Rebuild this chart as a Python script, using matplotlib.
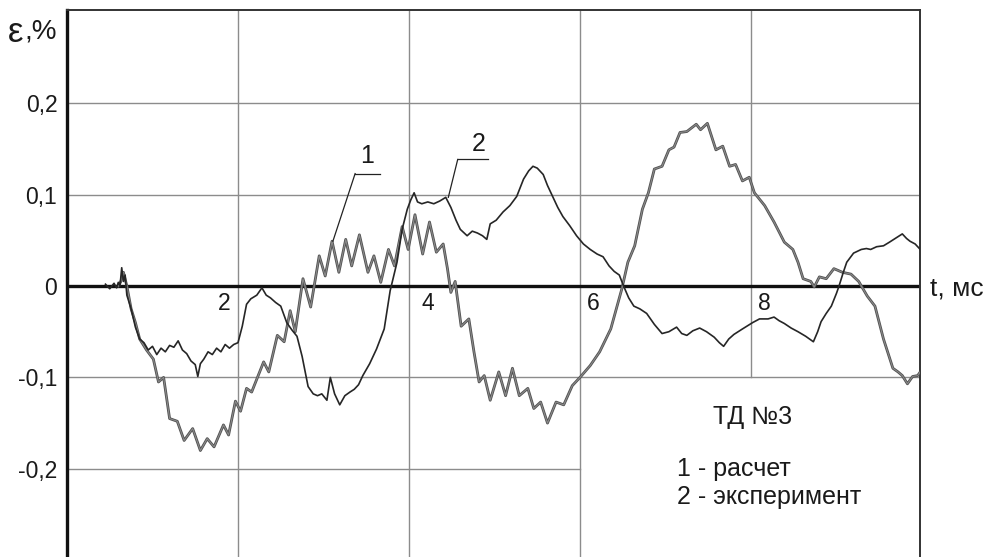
import matplotlib
matplotlib.use("Agg")
import matplotlib.pyplot as plt
import matplotlib.patheffects as pe

plt.rcParams['font.family'] = ['Liberation Sans', 'DejaVu Sans']

# ---- data ----
# curve 1: calculation (расчет)
calc_t = [0.60, 0.63, 0.66, 0.70, 0.75, 0.80, 0.85, 0.93, 1.01, 1.07,
          1.13, 1.20, 1.29, 1.37, 1.47, 1.56, 1.64, 1.72, 1.83, 1.89,
          1.97, 2.03, 2.10, 2.16, 2.30, 2.36, 2.46, 2.54, 2.61, 2.67,
          2.76, 2.85, 2.95, 3.02, 3.10, 3.18, 3.26, 3.33, 3.42, 3.52,
          3.59, 3.67, 3.76, 3.83, 3.92, 3.99, 4.07, 4.16, 4.24, 4.32,
          4.40, 4.45, 4.49, 4.54, 4.61, 4.70, 4.76, 4.82, 4.88, 4.95,
          5.05, 5.13, 5.21, 5.29, 5.39, 5.46, 5.54, 5.62, 5.72, 5.81,
          5.91, 6.00, 6.12, 6.23, 6.36, 6.49, 6.56, 6.64, 6.73, 6.80,
          6.87, 6.96, 7.04, 7.10, 7.17, 7.25, 7.36, 7.41, 7.49, 7.59,
          7.67, 7.75, 7.82, 7.90, 7.98, 8.04, 8.16, 8.27, 8.39, 8.49,
          8.55, 8.61, 8.70, 8.74, 8.80, 8.88, 8.97, 9.07, 9.17, 9.26,
          9.36, 9.45, 9.55, 9.66, 9.72, 9.77, 9.83, 9.89, 9.95, 9.98]
calc_v = [0.000, 0.005, 0.015, 0.000, -0.025, -0.040, -0.058, -0.070, -0.080, -0.105,
          -0.100, -0.145, -0.148, -0.169, -0.156, -0.180, -0.167, -0.176, -0.152, -0.163,
          -0.126, -0.137, -0.112, -0.116, -0.083, -0.094, -0.054, -0.061, -0.027, -0.050,
          0.008, -0.023, 0.033, 0.011, 0.049, 0.015, 0.051, 0.022, 0.056, 0.015,
          0.033, 0.004, 0.040, 0.022, 0.065, 0.040, 0.078, 0.035, 0.070, 0.037,
          0.046, 0.019, -0.007, 0.005, -0.044, -0.036, -0.072, -0.105, -0.098, -0.125,
          -0.094, -0.120, -0.090, -0.120, -0.112, -0.134, -0.127, -0.150, -0.127, -0.130,
          -0.109, -0.100, -0.087, -0.072, -0.047, -0.003, 0.026, 0.044, 0.084, 0.102,
          0.128, 0.131, 0.149, 0.152, 0.168, 0.169, 0.177, 0.171, 0.178, 0.149,
          0.153, 0.131, 0.133, 0.115, 0.119, 0.102, 0.088, 0.070, 0.048, 0.040,
          0.026, 0.008, 0.005, -0.001, 0.010, 0.008, 0.019, 0.015, 0.013, 0.005,
          -0.011, -0.022, -0.058, -0.090, -0.094, -0.098, -0.107, -0.099, -0.098, -0.094]

# curve 2: experiment (эксперимент)
exp_t = [0.45, 0.50, 0.55, 0.58, 0.60, 0.62, 0.64, 0.66, 0.68, 0.70,
         0.75, 0.80, 0.85, 0.90, 0.95, 1.00, 1.05, 1.10, 1.15, 1.20,
         1.25, 1.30, 1.35, 1.40, 1.45, 1.50, 1.53, 1.56, 1.60, 1.65,
         1.70, 1.75, 1.80, 1.85, 1.90, 1.95, 2.00, 2.05, 2.10, 2.15,
         2.22, 2.28, 2.33, 2.38, 2.44, 2.50, 2.57, 2.63, 2.69, 2.75,
         2.82, 2.88, 2.93, 2.98, 3.04, 3.08, 3.13, 3.19, 3.25, 3.31,
         3.36, 3.41, 3.46, 3.54, 3.62, 3.71, 3.78, 3.86, 3.92, 3.98,
         4.02, 4.06, 4.10, 4.15, 4.22, 4.29, 4.36, 4.43, 4.49, 4.55,
         4.60, 4.68, 4.74, 4.80, 4.86, 4.91, 4.95, 5.02, 5.10, 5.18,
         5.26, 5.34, 5.40, 5.45, 5.50, 5.57, 5.62, 5.68, 5.74, 5.80,
         5.88, 5.96, 6.04, 6.12, 6.20, 6.27, 6.34, 6.40, 6.46, 6.51,
         6.57, 6.63, 6.70, 6.78, 6.87, 6.96, 7.04, 7.13, 7.19, 7.25,
         7.32, 7.40, 7.48, 7.57, 7.63, 7.68, 7.74, 7.80, 7.90, 8.02,
         8.10, 8.20, 8.27, 8.33, 8.39, 8.47, 8.55, 8.64, 8.73, 8.78,
         8.82, 8.88, 8.94, 9.00, 9.03, 9.08, 9.12, 9.20, 9.29, 9.35,
         9.40, 9.47, 9.55, 9.62, 9.67, 9.72, 9.77, 9.82, 9.86, 9.92,
         9.98]
exp_v = [0.002, -0.003, 0.003, -0.002, 0.004, 0.000, 0.020, 0.005, 0.012, -0.010,
         -0.025, -0.045, -0.058, -0.062, -0.070, -0.066, -0.075, -0.068, -0.072, -0.065,
         -0.067, -0.060, -0.070, -0.074, -0.082, -0.086, -0.099, -0.085, -0.080, -0.072,
         -0.075, -0.068, -0.072, -0.064, -0.068, -0.064, -0.062, -0.044, -0.020, -0.014,
         -0.010, -0.002, -0.010, -0.013, -0.018, -0.022, -0.040, -0.048, -0.055, -0.077,
         -0.110, -0.118, -0.120, -0.118, -0.125, -0.100, -0.118, -0.130, -0.120, -0.116,
         -0.113, -0.108, -0.098, -0.085, -0.069, -0.047, -0.005, 0.026, 0.062, 0.084,
         0.094, 0.102, 0.092, 0.090, 0.092, 0.090, 0.093, 0.097, 0.086, 0.072,
         0.062, 0.055, 0.060, 0.058, 0.055, 0.051, 0.068, 0.072, 0.081, 0.088,
         0.098, 0.117, 0.126, 0.131, 0.129, 0.122, 0.110, 0.098, 0.086, 0.076,
         0.066, 0.055, 0.046, 0.040, 0.035, 0.032, 0.022, 0.016, 0.012, 0.000,
         -0.013, -0.022, -0.025, -0.030, -0.042, -0.052, -0.050, -0.045, -0.052, -0.054,
         -0.049, -0.046, -0.050, -0.056, -0.062, -0.066, -0.058, -0.053, -0.047, -0.040,
         -0.036, -0.036, -0.034, -0.038, -0.041, -0.046, -0.050, -0.055, -0.061, -0.050,
         -0.039, -0.030, -0.022, -0.008, 0.000, 0.015, 0.026, 0.036, 0.040, 0.041,
         0.040, 0.043, 0.044, 0.048, 0.051, 0.054, 0.057, 0.052, 0.049, 0.046,
         0.040]

y_ticks = [0.2, 0.1, 0.0, -0.1, -0.2]
y_tick_labels = ["0,2", "0,1", "0", "-0,1", "-0,2"]
x_ticks = [2, 4, 6, 8]
x_tick_labels = ["2", "4", "6", "8"]

# ---- figure ----
W, H = 991, 557
fig = plt.figure(figsize=(W / 100, H / 100), dpi=100)
ax = fig.add_axes([67 / W, 0.0, (920 - 67) / W, (557 - 10) / H])
ax.set_xlim(0, 9.977)
ax.set_ylim(-0.2965, 0.302)

grid_c = '#8c8c8c'
grid_lw = 1.0
# horizontal grid lines
for yv in [0.2, 0.1, -0.1]:
    ax.plot([0, 9.977], [yv, yv], color=grid_c, lw=grid_lw, zorder=1)
ax.plot([0, 6], [-0.2, -0.2], color=grid_c, lw=grid_lw, zorder=1)
# vertical grid lines
for xv in [2, 4, 6]:
    ax.plot([xv, xv], [-0.2965, 0.302], color=grid_c, lw=grid_lw, zorder=1)
ax.plot([8, 8], [-0.1, 0.302], color=grid_c, lw=grid_lw, zorder=1)

# zero line
ax.axhline(0, color='#111111', lw=2.4, zorder=2)

# curves
ax.plot(calc_t, calc_v, color='#8a8a8a', lw=0.8, zorder=3,
        path_effects=[pe.Stroke(linewidth=2.0, foreground='#505050'), pe.Normal()])
ax.plot(exp_t, exp_v, color='#262626', lw=1.2, zorder=4)

# spines
ax.spines['bottom'].set_visible(False)
ax.spines['left'].set_linewidth(2.4)
ax.spines['left'].set_color('#111111')
ax.spines['right'].set_linewidth(1.4)
ax.spines['right'].set_color('#333333')
ax.spines['top'].set_linewidth(1.4)
ax.spines['top'].set_color('#333333')

ax.set_yticks(y_ticks)
ax.set_yticklabels(y_tick_labels, fontsize=16.5, color='#1a1a1a')
ax.tick_params(axis='y', length=0, pad=7)
ax.set_xticks([])

# x labels placed inside, just below zero line
x_label_pos = [1.84, 4.22, 6.16, 8.16]
for xp, lab in zip(x_label_pos, x_tick_labels):
    ax.text(xp, -0.0195, lab, fontsize=16.5, ha='center', va='center', color='#1a1a1a')

# axis titles
fig.text(8 / W, 1 - 32 / H, "ε", fontsize=25, ha='left', va='center', color='#1a1a1a')
fig.text(24 / W, 1 - 31 / H, ",%", fontsize=20, ha='left', va='center', color='#1a1a1a')
fig.text(930 / W, 1 - 289 / H, "t, мс", fontsize=19, ha='left', va='center', color='#1a1a1a')

# leaders for curve labels
ax.plot([3.37, 3.66], [0.123, 0.123], color='#222222', lw=0.9, zorder=5)
ax.plot([3.37, 3.11], [0.123, 0.049], color='#222222', lw=0.9, zorder=5)
ax.text(3.51, 0.142, "1", fontsize=18, ha='center', va='center', color='#1a1a1a')
ax.plot([4.57, 4.92], [0.1385, 0.1385], color='#222222', lw=0.9, zorder=5)
ax.plot([4.57, 4.46], [0.1385, 0.097], color='#222222', lw=0.9, zorder=5)
ax.text(4.81, 0.155, "2", fontsize=18, ha='center', va='center', color='#1a1a1a')

# legend text block
ax.text(8.02, -0.143, "ТД №3", fontsize=18, ha='center', va='center', color='#1a1a1a')
ax.text(7.13, -0.200, "1 - расчет", fontsize=18, ha='left', va='center', color='#1a1a1a')
ax.text(7.13, -0.231, "2 - эксперимент", fontsize=18, ha='left', va='center', color='#1a1a1a')

fig.savefig("out.png", dpi=100)
